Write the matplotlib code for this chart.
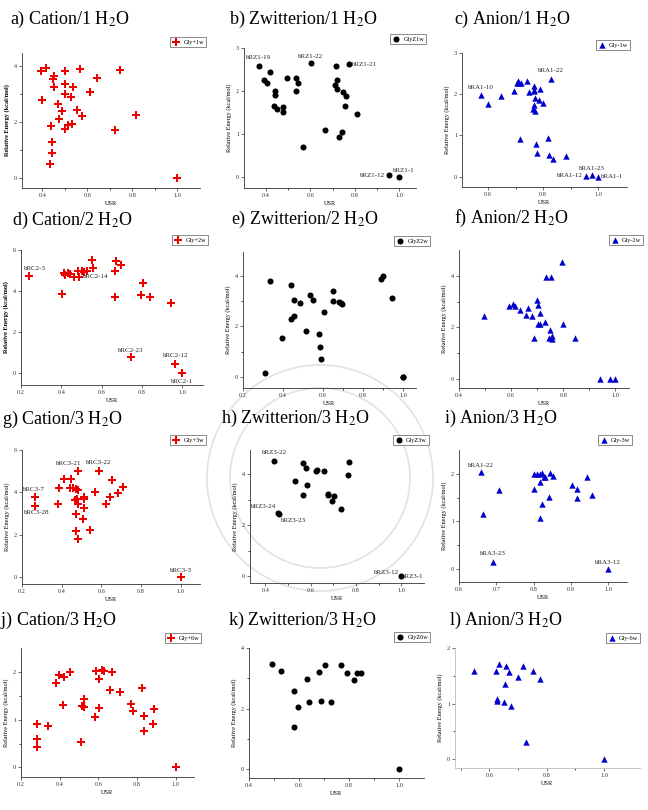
import matplotlib
matplotlib.use("Agg")
import matplotlib.pyplot as plt
from matplotlib.patches import Ellipse

plt.rcParams["font.family"] = ["Liberation Serif", "DejaVu Serif"]
plt.rcParams["mathtext.fontset"] = "stix"

W, H = 648, 810

# ---- data (USR, relative energy in kcal/mol) ----
a_usr = [0.393, 0.416, 0.397, 0.438, 0.441, 0.444, 0.434, 0.451, 0.449, 0.451, 0.468, 0.476, 0.487, 0.499, 0.500,
         0.501, 0.500, 0.516, 0.534, 0.526, 0.537, 0.556, 0.566, 0.575, 0.610, 0.641, 0.722, 0.747, 0.816, 1.0]
a_en = [3.82, 3.94, 2.77, 1.86, 1.27, 0.90, 0.49, 3.64, 3.52, 3.26, 2.64, 2.11, 2.40, 3.82, 3.34,
        3.00, 1.74, 1.90, 1.93, 2.88, 3.23, 2.41, 3.88, 2.20, 3.06, 3.58, 1.72, 3.86, 2.26, 0.0]

b_usr = [0.367, 0.392, 0.405, 0.418, 0.441, 0.439, 0.436, 0.448, 0.477, 0.477, 0.495, 0.536, 0.543, 0.536, 0.566,
         0.602, 0.668, 0.714, 0.712, 0.720, 0.718, 0.727, 0.742, 0.745, 0.762, 0.756, 0.774, 0.809, 0.953, 1.0]
b_en = [2.57, 2.25, 2.19, 2.43, 2.00, 1.90, 1.64, 1.59, 1.63, 1.52, 2.29, 2.30, 2.19, 2.01, 0.70,
        2.64, 1.10, 2.57, 2.13, 2.26, 2.04, 0.93, 1.04, 1.97, 1.88, 1.65, 2.62, 1.47, 0.04, 0.0]
b_labels = {"bRZ1-19": 0, "bRZ1-22": 15, "bRZ1-21": 26, "bRZ1-12": 28, "bRZ1-1": 29}

c_usr = [0.575, 0.599, 0.648, 0.695, 0.707, 0.705, 0.714, 0.718, 0.743, 0.747, 0.765, 0.766, 0.768, 0.787, 0.772,
         0.784, 0.766, 0.762, 0.772, 0.800, 0.827, 0.715, 0.773, 0.779, 0.817, 0.823, 0.836, 0.884, 0.956, 0.978, 1.0]
c_en = [1.99, 1.76, 1.95, 2.09, 2.33, 2.27, 2.27, 2.27, 2.31, 2.06, 2.19, 2.08, 2.11, 2.12, 1.91,
        1.87, 1.74, 1.65, 1.60, 1.78, 2.37, 0.92, 0.79, 0.57, 0.93, 0.53, 0.44, 0.51, 0.02, 0.04, 0.0]
c_labels = {"bRA1-10": 0, "bRA1-22": 20, "bRA1-12": 28, "bRA1-23": 29, "bRA1-1": 30}

d_usr = [0.240, 0.402, 0.415, 0.420, 0.435, 0.443, 0.463, 0.485, 0.487, 0.501, 0.515, 0.530, 0.551, 0.559, 0.665,
         0.665, 0.673, 0.695, 0.796, 0.806, 0.839, 0.945, 0.747, 0.967, 1.0]
d_en = [4.73, 3.84, 4.86, 4.78, 4.89, 4.83, 4.70, 4.99, 4.70, 4.96, 4.94, 4.98, 5.51, 5.14, 4.99,
        3.72, 5.46, 5.25, 3.80, 4.37, 3.72, 3.43, 0.76, 0.44, 0.0]
d_labels = {"bRC2-3": 0, "bRC2-14": 8, "bRC2-23": 22, "bRC2-12": 23, "bRC2-1": 24}

e_usr = [0.310, 0.333, 0.395, 0.440, 0.438, 0.457, 0.457, 0.483, 0.513, 0.533, 0.548, 0.582, 0.585, 0.590, 0.603,
         0.650, 0.650, 0.680, 0.692, 0.695, 0.888, 0.902, 0.947, 1.0, 1.002]
e_en = [0.16, 3.79, 1.56, 3.63, 2.31, 3.06, 2.43, 2.93, 1.83, 3.26, 3.06, 1.70, 1.17, 0.70, 2.56,
        3.39, 3.00, 2.97, 2.92, 2.88, 3.87, 4.01, 3.14, 0.01, -0.01]

f_usr = [0.496, 0.590, 0.609, 0.613, 0.635, 0.656, 0.666, 0.681, 0.688, 0.700, 0.703, 0.709, 0.703, 0.709, 0.728,
         0.734, 0.754, 0.749, 0.744, 0.755, 0.758, 0.794, 0.798, 0.844, 0.941, 0.978, 0.998]
f_en = [2.46, 2.81, 2.90, 2.84, 2.68, 2.49, 2.77, 2.44, 1.60, 3.05, 2.88, 2.55, 2.13, 2.14, 2.19,
        3.97, 3.97, 1.91, 1.60, 1.65, 1.55, 4.52, 2.12, 1.57, 0.0, 0.0, 0.0]

g_usr = [0.267, 0.267, 0.382, 0.387, 0.412, 0.446, 0.441, 0.457, 0.471, 0.483, 0.466, 0.475, 0.474, 0.471, 0.483,
         0.483, 0.483, 0.508, 0.513, 0.513, 0.513, 0.541, 0.566, 0.588, 0.626, 0.643, 0.652, 0.685, 0.708, 1.0]
g_en = [3.77, 3.36, 3.44, 4.19, 4.63, 4.63, 4.22, 4.19, 4.15, 4.11, 3.64, 3.71, 2.97, 2.18, 1.82,
        3.44, 5.01, 2.73, 3.80, 3.69, 3.25, 2.23, 4.04, 5.01, 3.44, 3.77, 4.59, 3.99, 4.24, 0.0]
g_labels = {"bRC3-7": 0, "bRC3-28": 1, "bRC3-21": 16, "bRC3-22": 23, "bRC3-3": 29}

h_usr = [0.440, 0.457, 0.460, 0.532, 0.567, 0.581, 0.567, 0.585, 0.626, 0.628, 0.658, 0.675, 0.677, 0.694, 0.705,
         0.735, 0.767, 0.770, 1.0]
h_en = [4.51, 2.46, 2.43, 3.73, 4.44, 4.25, 3.18, 3.57, 4.12, 4.16, 4.12, 3.22, 3.18, 2.95, 3.15,
        2.61, 3.95, 4.47, 0.0]
h_labels = {"bRZ3-22": 0, "bRZ3-24": 1, "bRZ3-23": 2, "bRZ3-12": 18, "bRZ3-1": 18}

i_usr = [0.659, 0.665, 0.706, 0.690, 0.801, 0.810, 0.816, 0.823, 0.827, 0.831, 0.801, 0.818, 0.821, 0.816, 0.841,
         0.844, 0.851, 0.904, 0.916, 0.916, 0.944, 0.955, 1.0]
i_en = [2.03, 1.15, 1.66, 0.16, 2.00, 1.99, 1.99, 2.01, 1.93, 1.94, 1.68, 1.82, 1.36, 1.07, 1.52,
        2.01, 1.96, 1.76, 1.68, 1.50, 1.93, 1.55, 0.0]
i_labels = {"bRA1-22": 0, "bRA3-23": 3, "bRA3-12": 22}

j_usr = [0.281, 0.281, 0.281, 0.337, 0.380, 0.396, 0.423, 0.453, 0.416, 0.512, 0.515, 0.524, 0.527, 0.581, 0.586,
         0.603, 0.605, 0.621, 0.631, 0.659, 0.671, 0.714, 0.770, 0.778, 0.823, 0.835, 0.835, 0.880, 0.887, 1.0]
j_en = [0.91, 0.59, 0.43, 0.87, 1.76, 1.93, 1.89, 1.99, 1.30, 0.54, 1.29, 1.26, 1.44, 1.05, 2.01,
        1.25, 1.85, 2.03, 2.01, 1.62, 2.00, 1.57, 1.32, 1.19, 1.67, 1.07, 0.77, 0.91, 1.23, 0.0]

k_usr = [0.491, 0.528, 0.581, 0.581, 0.597, 0.632, 0.639, 0.678, 0.689, 0.702, 0.728, 0.767, 0.792, 0.819, 0.832,
         0.848, 1.0]
k_en = [3.48, 3.24, 2.58, 1.40, 2.05, 2.97, 2.22, 3.21, 2.26, 3.45, 2.22, 3.45, 3.16, 2.96, 3.18, 3.18, 0.0]

l_usr = [0.545, 0.624, 0.633, 0.658, 0.670, 0.656, 0.698, 0.717, 0.753, 0.778, 0.627, 0.628, 0.651, 0.676, 0.726, 1.0]
l_en = [1.59, 1.58, 1.72, 1.68, 1.57, 1.36, 1.47, 1.67, 1.59, 1.45, 1.09, 1.04, 1.02, 0.95, 0.30, 0.0]

titles = ["a) Cation/1 H$_2$O", "b) Zwitterion/1 H$_2$O", "c) Anion/1 H$_2$O",
          "d) Cation/2 H$_2$O", "e) Zwitterion/2 H$_2$O", "f) Anion/2 H$_2$O",
          "g) Cation/3 H$_2$O", "h) Zwitterion/3 H$_2$O", "i) Anion/3 H$_2$O",
          "j) Cation/3 H$_2$O", "k) Zwitterion/3 H$_2$O", "l) Anion/3 H$_2$O"]
legend_names = ["Gly+1w", "GlyZ1w", "Gly-1w", "Gly+2w", "GlyZ2w", "Gly-2w",
                "Gly+3w", "GlyZ3w", "Gly-3w", "Gly+6w", "GlyZ6w", "Gly-6w"]

# ---- layout (pixels of the 648x810 image) ----
red, black, blue = "#ee0000", "black", "#0000cc"
styles = {"cation": ("P", red, 27), "zwit": ("o", black, 19), "anion": ("^", blue, 21)}

panels = [
    dict(x=a_usr, y=a_en, kind="cation", title_at=(10, 19), box=(22, 53, 200, 188),
         xlim=(0.31, 1.10), ylim=(-0.36, 4.46), xt=[0.4, 0.6, 0.8, 1.0], xm=[0.5, 0.7, 0.9],
         yt=[0, 2, 4], ym=[1, 3], leg_at=(188, 42), labels={}),
    dict(x=b_usr, y=b_en, kind="zwit", title_at=(229, 19), box=(244, 48, 416, 188),
         xlim=(0.30, 1.077), ylim=(-0.26, 3.0), xt=[0.4, 0.6, 0.8, 1.0], xm=[0.5, 0.7, 0.9],
         yt=[0, 1, 2, 3], ym=[], leg_at=(408, 39), labels=b_labels),
    dict(x=c_usr, y=c_en, kind="anion", title_at=(454, 19), box=(462, 53, 627, 187),
         xlim=(0.505, 1.105), ylim=(-0.25, 3.0), xt=[0.6, 0.8, 1.0], xm=[0.7, 0.9],
         yt=[0, 1, 2, 3], ym=[], leg_at=(613, 45), labels=c_labels),
    dict(x=d_usr, y=d_en, kind="cation", title_at=(12, 220), box=(21, 250, 203, 385),
         xlim=(0.2, 1.104), ylim=(-0.585, 6.0), xt=[0.2, 0.4, 0.6, 0.8, 1.0], xm=[],
         yt=[0, 2, 4, 6], ym=[], leg_at=(190, 240), labels=d_labels),
    dict(x=e_usr, y=e_en, kind="zwit", title_at=(231, 219), box=(243, 252, 416, 388),
         xlim=(0.2, 1.065), ylim=(-0.44, 4.95), xt=[0.2, 0.4, 0.6, 0.8, 1.0], xm=[0.7, 0.9],
         yt=[0, 2, 4], ym=[1, 3], leg_at=(412, 241), labels={}),
    dict(x=f_usr, y=f_en, kind="anion", title_at=(454, 218), box=(459, 250, 629, 388),
         xlim=(0.415, 1.052), ylim=(-0.35, 5.0), xt=[0.4, 0.6, 0.8, 1.0], xm=[0.5, 0.7, 0.9],
         yt=[0, 2, 4], ym=[1, 3], leg_at=(626, 240), labels={}),
    dict(x=g_usr, y=g_en, kind="cation", title_at=(2, 419), box=(22, 450, 200, 584),
         xlim=(0.205, 1.098), ylim=(-0.32, 6.0), xt=[0.2, 0.4, 0.6, 0.8, 1.0], xm=[],
         yt=[0, 2, 4, 6], ym=[], leg_at=(188, 440), labels=g_labels),
    dict(x=h_usr, y=h_en, kind="zwit", title_at=(221, 418), box=(250, 450, 424, 583),
         xlim=(0.333, 1.10), ylim=(-0.27, 4.94), xt=[0.4, 0.6, 0.8, 1.0], xm=[0.5, 0.7, 0.9],
         yt=[0, 2, 4], ym=[1, 3], leg_at=(411, 440), labels=h_labels),
    dict(x=i_usr, y=i_en, kind="anion", title_at=(444, 418), box=(459, 450, 627, 582),
         xlim=(0.605, 1.05), ylim=(-0.27, 2.5), xt=[0.6, 0.7, 0.8, 0.9, 1.0], xm=[],
         yt=[0, 1, 2], ym=[0.5, 1.5], leg_at=(615, 440), labels=i_labels),
    dict(x=j_usr, y=j_en, kind="cation", title_at=(0, 620), box=(21, 648, 194, 777),
         xlim=(0.2, 1.094), ylim=(-0.2, 2.5), xt=[0.2, 0.4, 0.6, 0.8, 1.0], xm=[],
         yt=[0, 1, 2], ym=[0.5, 1.5], leg_at=(183, 638), labels={}),
    dict(x=k_usr, y=k_en, kind="zwit", title_at=(228, 620), box=(249, 648, 424, 778),
         xlim=(0.416, 1.10), ylim=(-0.29, 4.0), xt=[0.4, 0.6, 0.8, 1.0], xm=[0.5, 0.7, 0.9],
         yt=[0, 2, 4], ym=[1, 3], leg_at=(412, 637), labels={}),
    dict(x=l_usr, y=l_en, kind="anion", title_at=(449, 620), box=(455, 648, 640, 768),
         xlim=(0.48, 1.125), ylim=(-0.16, 2.0), xt=[0.6, 0.8, 1.0], xm=[0.5, 0.7, 0.9],
         yt=[0, 1, 2], ym=[0.5, 1.5], leg_at=(623, 638), labels={}),
]

# label offsets in pixels (dx, dy up) and alignment
label_offsets = {
    "bRZ1-19": (0, 9, "center"), "bRZ1-22": (0, 7, "center"), "bRZ1-21": (3, 0, "left"),
    "bRZ1-12": (-3, 0, "right"), "bRZ1-1": (-6, 6, "left"),
    "bRA1-10": (0, 7, "center"), "bRA1-22": (0, 8, "center"), "bRA1-23": (0, 7, "center"),
    "bRA1-12": (-3, 0, "right"), "bRA1-1": (3, 0, "left"),
    "bRC2-3": (6, 8, "center"), "bRC2-14": (4, 0, "left"), "bRC2-23": (0, 7, "center"),
    "bRC2-12": (0, 8, "center"), "bRC2-1": (0, -8, "center"),
    "bRC3-7": (-1, 8, "center"), "bRC3-28": (1, -7, "center"), "bRC3-21": (-9, 7, "center"),
    "bRC3-22": (0, 8, "center"), "bRC3-3": (0, 7, "center"),
    "bRZ3-22": (0, 8, "center"), "bRZ3-24": (-2, 7, "right"), "bRZ3-23": (2, -6, "left"),
    "bRZ3-12": (-2, 4, "right"), "bRZ3-1": (1, 0, "left"),
    "bRA3-23": (0, 8, "center"), "bRA3-12": (0, 7, "center"),
}
i_offsets = {"bRA1-22": (0, 7, "center")}

fig = plt.figure(figsize=(W / 100, H / 100), dpi=100)

# faint watermark seal in the middle
for r in (113, 90):
    fig.add_artist(Ellipse((320 / W, 1 - 478 / H), 2 * r / W, 2 * r / H, transform=fig.transFigure,
                           fill=False, edgecolor="#e2e2e2", linewidth=1.2, zorder=0))

for n, p in enumerate(panels):
    l, t, r, b = p["box"]
    ax = fig.add_axes([l / W, 1 - b / H, (r - l) / W, (b - t) / H])
    ax.patch.set_alpha(0)
    marker, color, size = styles[p["kind"]]
    ax.scatter(p["x"], p["y"], marker=marker, s=size, c=color, linewidths=0,
               label=legend_names[n], zorder=3, clip_on=False)
    ax.set_xlim(p["xlim"])
    ax.set_ylim(p["ylim"])
    ax.set_xticks(p["xt"])
    ax.set_xticklabels([f"{v:.1f}" for v in p["xt"]])
    ax.set_xticks(p["xm"], minor=True)
    ax.set_yticks(p["yt"])
    ax.set_yticklabels([f"{v:g}" for v in p["yt"]])
    ax.set_yticks(p["ym"], minor=True)
    for s in ("top", "right"):
        ax.spines[s].set_visible(False)
    spine_col = "#bbbbbb" if n == 11 else "#333333"
    for s in ("left", "bottom"):
        ax.spines[s].set_linewidth(0.6)
        ax.spines[s].set_color(spine_col)
    ax.tick_params(labelsize=4.5, length=2, width=0.5, pad=1.5, colors="#333333")
    ax.tick_params(which="minor", length=1.3, width=0.5)
    ax.set_xlabel("USR", fontsize=4.5, labelpad=2)
    ax.set_ylabel("Relative Energy (kcal/mol)", fontsize=4.5, labelpad=3,
                  fontweight="bold" if p["kind"] == "cation" and n < 4 else "normal")

    offs = i_offsets if n == 8 else label_offsets
    for name, idx in p["labels"].items():
        dx, dy, ha = offs.get(name, label_offsets.get(name, (0, 7, "center")))
        ax.annotate(name, (p["x"][idx], p["y"][idx]), xytext=(dx * 0.72, dy * 0.72),
                    textcoords="offset points", ha=ha, va="center", fontsize=5, color="#222222")

    tx, ty = p["title_at"]
    fig.text(tx / W, 1 - ty / H, titles[n], fontsize=13, ha="left", va="center")

    lx, ly = p["leg_at"]
    leg = ax.legend(loc="center", bbox_to_anchor=(lx / W, 1 - ly / H), bbox_transform=fig.transFigure,
                    fontsize=4.5, frameon=True, fancybox=False, borderpad=0.3, handletextpad=0.6,
                    handlelength=1.2, borderaxespad=0, scatterpoints=1)
    leg.get_frame().set_edgecolor("#333333")
    leg.get_frame().set_linewidth(0.5)

fig.savefig("out.png", dpi=100)
